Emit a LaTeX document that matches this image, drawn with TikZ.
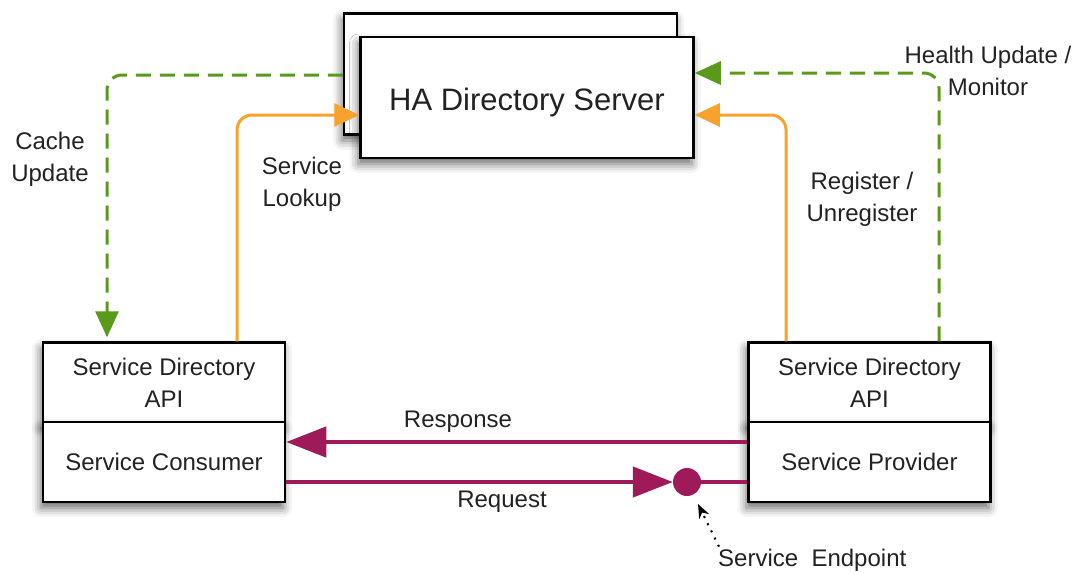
\documentclass[tikz,border=0pt]{standalone}
\usepackage{fontspec}
\setmainfont{Liberation Sans}
\usetikzlibrary{arrows.meta,shadows,shadows.blur}
\definecolor{txt}{HTML}{222222}
\definecolor{grn}{HTML}{5A9A1A}
\definecolor{orn}{HTML}{F6A22C}
\definecolor{mag}{HTML}{9E1A58}
\begin{document}
\begin{tikzpicture}[x=1pt,y=-1pt,
  box/.style={draw=black,line width=2.5pt,fill=white,inner sep=0pt,text=txt,
    font=\fontsize{24}{32}\selectfont,align=center,
    blur shadow={shadow xshift=-2pt,shadow yshift=-6pt,shadow blur radius=9pt,shadow opacity=60}},
  srv/.style={box,minimum width=333pt,minimum height=121pt,font=\fontsize{31}{37}\selectfont},
  sbox/.style={box,minimum width=242pt,minimum height=80pt},
  lbl/.style={text=txt,font=\fontsize{24}{32}\selectfont,align=center,inner sep=0pt},
  grnarrow/.style={draw=grn,line width=3pt,dash pattern=on 15pt off 9pt,rounded corners=15pt,
    -{Triangle[length=26pt,width=23pt]}},
  ornarrow/.style={draw=orn,line width=3pt,rounded corners=15pt,
    -{Triangle[length=25pt,width=23pt]}},
  magarrow/.style={draw=mag,line width=4.5pt,-{Triangle[length=40pt,width=30pt]}},
  magline/.style={draw=mag,line width=4.5pt},
  dot/.style={circle,fill=mag,minimum size=28pt,inner sep=0pt},
]
\useasboundingbox (0,0) rectangle (1079,573);
% server
\node[srv] (back) at (510.5,74) {};
\node[srv,text depth=0pt] (front) at (527,97.5) {\raisebox{-4pt}{HA Directory Server}};
% consumer
\node[sbox] (capi) at (164,382.5) {Service Directory\\API};
\node[sbox] (cons) at (164,462) {Service Consumer};
% provider
\node[sbox] (papi) at (869.5,382.5) {Service Directory\\API};
\node[sbox] (prov) at (869.5,462) {Service Provider};
% connectors
\draw[grnarrow,shorten >=4pt] ([yshift=-1pt]back.west) -| ([xshift=-57pt]capi.north);
\draw[ornarrow] ([xshift=73pt]capi.north) |- ([yshift=-17.5pt]front.west);
\draw[ornarrow] ([xshift=-83.5pt]papi.north) |- ([yshift=-17.5pt]front.east);
\draw[grnarrow] ([xshift=69.5pt]papi.north) |- ([yshift=24.5pt]front.east);
% request / response
\node[dot] (ep) at (687,482) {};
\draw[magarrow] ([yshift=20pt]prov.west) -- ([yshift=20pt]cons.east);
\draw[magarrow] ([yshift=-20pt]cons.east) -- (ep.west);
\draw[magline] (ep.center) -- ([yshift=-20pt]prov.west);
% labels
\node[lbl] (cache) at (50,159) {Cache\\Update};
\node[lbl] (lookup) at (302,184) {Service\\Lookup};
\node[lbl] (reg) at (862,199) {Register /\\Unregister};
\node[lbl] (health) at (988,71) {Health Update /\\Monitor};
\node[lbl] (resp) at (458,422) {Response};
\node[lbl] (req) at (502,502) {Request};
\node[lbl,anchor=west] (eplbl) at (718,560) {Service\ \ Endpoint};
\coordinate (eptip) at (698,504);
\draw[black,line width=2pt,dash pattern=on 2pt off 6pt,-{Stealth[length=14pt,width=11pt]}]
  ([xshift=1pt,yshift=2pt]eplbl.north west) -- (eptip);
\end{tikzpicture}
\end{document}
